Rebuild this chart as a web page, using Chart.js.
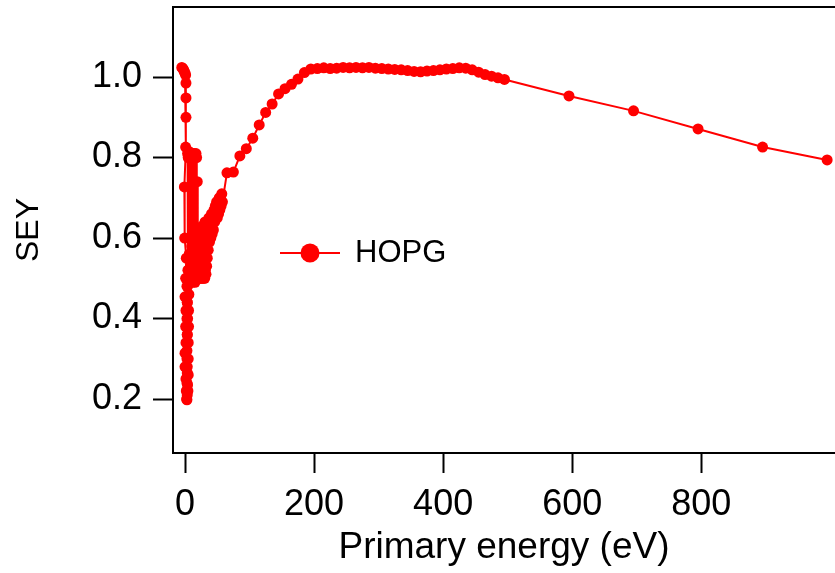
<!DOCTYPE html>
<html>
<head>
<meta charset="utf-8">
<title>SEY HOPG</title>
<script src="https://cdn.jsdelivr.net/npm/chart.js@4.4.1/dist/chart.umd.min.js"></script>
<style>
  html, body { margin: 0; padding: 0; background: #fff; }
  #wrap { width: 835px; height: 573px; }
</style>
</head>
<body>
<div id="wrap"><canvas id="seyChart" width="835" height="573"></canvas></div>
<script>
// Primary energy (eV)
const energy = [
  // near 0 eV: top cluster, drop to the minimum and back up
  -5, -4, -3, -2, -1, 0, 1, 1.5, 1.5, 1.5, 1, -1, -0.5, 2, 1, 3, 0, 3.5, 1.5, 4,
  1, 3.5, 1.5, 0, 3, 0, 3.5, 1.5, 4, 2, 3.5, 2.5, 3,
  4.5, 3, 5, 3.5, 5, 3, 5, 3.5, 5.5, 3, 5.5, 3.5, 6, 4, 6,
  // 4 - 19 eV
  4, 4.5, 5, 5.5, 6, 6.5, 7, 7.5, 8, 8.5, 9, 9.5, 10, 10.5, 11, 11.5, 12, 12.5, 13, 13.5,
  14, 14.5, 15, 15.5, 16, 16.5, 17, 17.5, 18, 18.5, 19, 19.5,
  // 20 - 35 eV
  20, 20.5, 21, 21.5, 22, 22.5, 23, 23.5, 24, 24.5, 25, 25.5, 26, 26.5,
  27, 27.5, 28, 28.5, 29, 29.5, 30, 30.5, 31, 31.5, 32, 32.5, 33, 33.5, 34, 34.5,
  // 35 - 58 eV
  35, 36, 37, 38, 39, 40, 41, 42, 43, 44, 45,
  46, 47, 48, 49, 50, 51, 52, 53, 54, 55, 56, 57, 58,
  // 65 - 495 eV
  65, 75, 85, 95, 105, 115, 125, 135, 145, 155, 165, 175, 185, 195,
  205, 215, 225, 235, 245, 255, 265, 275, 285, 295, 305, 315, 325, 335, 345, 355,
  365, 375, 385, 395, 405, 415, 425, 435, 445, 455, 465, 475, 485, 495,
  595, 695, 795, 895, 995
];

// secondary electron yield
const sey = [
  1.024, 1.022, 1.020, 1.017, 1.013, 1.010, 1.005, 0.985, 0.948, 0.900, 0.826, 0.727, 0.600, 0.550, 0.500, 0.480, 0.454, 0.440, 0.420, 0.400,
  0.380, 0.360, 0.340, 0.314, 0.300, 0.280, 0.265, 0.250, 0.235, 0.220, 0.210, 0.200, 0.198,
  0.220, 0.240, 0.260, 0.280, 0.300, 0.320, 0.340, 0.360, 0.380, 0.400, 0.420, 0.440, 0.460, 0.480, 0.500,
  0.81, 0.52, 0.80, 0.50, 0.815, 0.56, 0.80, 0.49, 0.81, 0.53, 0.805, 0.50, 0.81, 0.58, 0.80, 0.49, 0.81, 0.52, 0.80, 0.50,
  0.81, 0.55, 0.80, 0.49, 0.805, 0.51, 0.81, 0.50, 0.80, 0.52, 0.74, 0.50,
  0.62, 0.50, 0.60, 0.51, 0.61, 0.50, 0.62, 0.52, 0.61, 0.50, 0.62, 0.51, 0.62, 0.50,
  0.63, 0.52, 0.62, 0.50, 0.63, 0.51, 0.63, 0.50, 0.64, 0.52, 0.63, 0.51, 0.64, 0.53, 0.64, 0.55,
  0.64, 0.57, 0.65, 0.59, 0.65, 0.60, 0.66, 0.61, 0.66, 0.62, 0.67,
  0.64, 0.68, 0.65, 0.69, 0.65, 0.69, 0.66, 0.70, 0.67, 0.70, 0.68, 0.71, 0.69,
  0.762, 0.764, 0.804, 0.822, 0.848, 0.881, 0.912, 0.933, 0.958, 0.971, 0.982, 0.995, 1.011, 1.020,
  1.021, 1.023, 1.021, 1.022, 1.024, 1.023, 1.024, 1.023, 1.024, 1.022, 1.021, 1.020, 1.019, 1.018, 1.016, 1.014,
  1.013, 1.015, 1.016, 1.018, 1.020, 1.021, 1.023, 1.022, 1.018, 1.012, 1.006, 1.002, 0.998, 0.994,
  0.953, 0.916, 0.871, 0.826, 0.794
];

const xTicks = [0, 200, 400, 600, 800];
const yTicks = [0.2, 0.4, 0.6, 0.8, 1.0];
const seriesName = 'HOPG';

const FONT = "'Liberation Sans', Arial, sans-serif";
const RED = '#ff0000';

// garis atas bingkai + legenda di dalam area plot
const framePlugin = {
  id: 'frameAndLegend',
  afterDraw(chart) {
    const { ctx, chartArea } = chart;
    ctx.save();
    ctx.strokeStyle = '#000';
    ctx.lineWidth = 2;
    ctx.beginPath();
    ctx.moveTo(chartArea.left - 1, chartArea.top);
    ctx.lineTo(chartArea.right, chartArea.top);
    ctx.stroke();

    const lx = chartArea.left + 107;
    const ly = chartArea.top + 246;
    ctx.strokeStyle = RED;
    ctx.lineWidth = 2;
    ctx.beginPath();
    ctx.moveTo(lx, ly);
    ctx.lineTo(lx + 60, ly);
    ctx.stroke();
    ctx.fillStyle = RED;
    ctx.beginPath();
    ctx.arc(lx + 30, ly, 9.5, 0, Math.PI * 2);
    ctx.fill();
    ctx.fillStyle = '#000';
    ctx.font = '31px ' + FONT;
    ctx.textBaseline = 'middle';
    ctx.fillText(seriesName, lx + 75, ly);
    ctx.restore();
  }
};

document.addEventListener('DOMContentLoaded', function() {
  const ctx = document.getElementById('seyChart').getContext('2d');

  new Chart(ctx, {
    type: 'scatter',
    data: {
      datasets: [{
        label: seriesName,
        data: energy.map((e, i) => ({ x: e, y: sey[i] })),
        showLine: true,
        borderColor: RED,
        backgroundColor: RED,
        borderWidth: 2,
        pointRadius: 5.5,
        pointBorderWidth: 0,
        pointBackgroundColor: RED
      }]
    },
    options: {
      responsive: false,
      animation: false,
      devicePixelRatio: 1,
      layout: { autoPadding: false, padding: { top: 7, right: 0, left: 0, bottom: 0 } },
      plugins: {
        legend: { display: false },
        tooltip: { enabled: false }
      },
      scales: {
        x: {
          type: 'linear',
          min: -18.6,
          max: 1007.2,
          afterFit: function(scale) {
            scale.height = 120;
            scale.paddingLeft = 0;
            scale.paddingRight = 0;
          },
          afterBuildTicks: function(scale) { scale.ticks = xTicks.map(v => ({ value: v })); },
          border: { display: true, color: '#000', width: 2 },
          grid: { drawOnChartArea: false, drawTicks: true, tickLength: 20, tickWidth: 2, tickColor: '#000' },
          ticks: { color: '#000', padding: 10, maxRotation: 0, font: { family: FONT, size: 36 } },
          title: {
            display: true,
            text: 'Primary energy (eV)',
            color: '#000',
            padding: { top: 0, bottom: 3 },
            font: { family: FONT, size: 37 }
          }
        },
        y: {
          type: 'linear',
          min: 0.066,
          max: 1.174,
          afterFit: function(scale) {
            scale.width = 173;
            scale.paddingTop = 0;
            scale.paddingBottom = 0;
          },
          afterBuildTicks: function(scale) { scale.ticks = yTicks.map(v => ({ value: v })); },
          border: { display: true, color: '#000', width: 2 },
          grid: { drawOnChartArea: false, drawTicks: true, tickLength: 20, tickWidth: 2, tickColor: '#000' },
          ticks: {
            color: '#000',
            padding: 11,
            font: { family: FONT, size: 36 },
            callback: function(value) { return Number(value).toFixed(1); }
          },
          title: {
            display: true,
            text: 'SEY',
            color: '#000',
            padding: { top: 10, bottom: 0 },
            font: { family: FONT, size: 32 }
          }
        }
      }
    },
    plugins: [framePlugin]
  });
});
</script>
</body>
</html>
